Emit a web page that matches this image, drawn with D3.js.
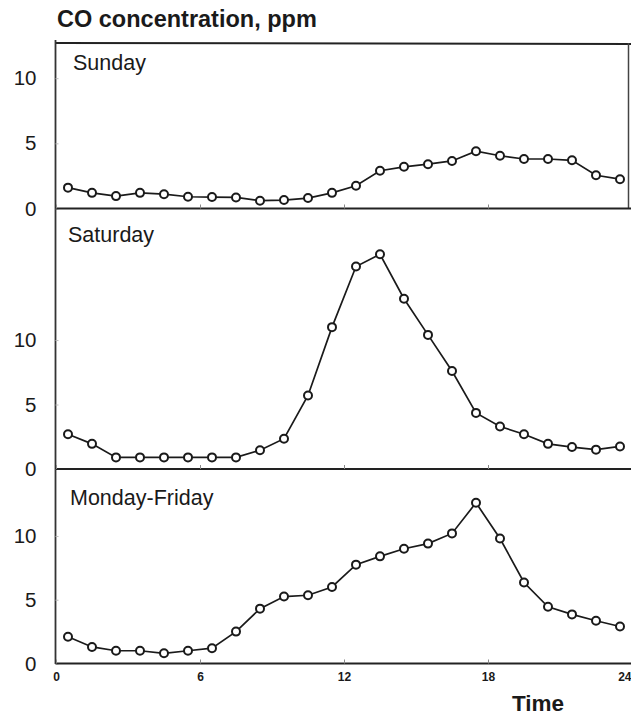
<!DOCTYPE html>
<html>
<head>
<meta charset="utf-8">
<script src="https://cdn.jsdelivr.net/npm/d3@7"></script>
<style>
  html, body { margin: 0; padding: 0; background: #fff; }
  svg { display: block; }
  text { font-family: "Liberation Sans", Arial, Helvetica, sans-serif; fill: #1a1a1a; }
</style>
</head>
<body>
<svg id="chart" width="631" height="718"></svg>
<script>
// ---- data ----
const hours = [0.5, 1.5, 2.5, 3.5, 4.5, 5.5, 6.5, 7.5, 8.5, 9.5, 10.5, 11.5,
               12.5, 13.5, 14.5, 15.5, 16.5, 17.5, 18.5, 19.5, 20.5, 21.5, 22.5, 23.5];
const sunday   = [1.6, 1.2, 0.95, 1.2, 1.1, 0.9, 0.88, 0.85, 0.6, 0.65, 0.8, 1.2,
                  1.75, 2.9, 3.2, 3.4, 3.65, 4.4, 4.05, 3.8, 3.8, 3.7, 2.55, 2.25];
const saturday = [2.7, 1.95, 0.9, 0.9, 0.9, 0.9, 0.9, 0.9, 1.45, 2.35, 5.7, 11.0,
                  15.7, 16.65, 13.2, 10.4, 7.6, 4.35, 3.3, 2.7, 1.95, 1.7, 1.5, 1.75];
const weekday  = [2.1, 1.3, 1.0, 1.0, 0.8, 1.0, 1.2, 2.5, 4.3, 5.25, 5.35, 6.0,
                  7.75, 8.4, 9.0, 9.4, 10.2, 12.6, 9.8, 6.35, 4.45, 3.85, 3.35, 2.9];
const panelNames = ["Sunday", "Saturday", "Monday-Friday"];
const xTicks = [0, 6, 12, 18, 24];
const yTicks = [0, 5, 10];
const titleText = "CO concentration, ppm";
const xTitle = "Time";

// ---- layout ----
const svg = d3.select("#chart");
const left = 55.5, right = 632;
const x = d3.scaleLinear().domain([0, 24]).range([56, 632]);

const panels = [
  { name: panelNames[0], values: sunday,   top: 43,  bottom: 208.5, ymax: 12.7,  labelX: 73, labelY: 70 },
  { name: panelNames[1], values: saturday, top: 208.5, bottom: 469, ymax: 20.2,  labelX: 68, labelY: 242 },
  { name: panelNames[2], values: weekday,  top: 469, bottom: 663.5, ymax: 15.25, labelX: 70, labelY: 505 }
];

// title
svg.append("text")
  .attr("x", 57).attr("y", 27)
  .attr("font-size", 23.5).attr("font-weight", "bold")
  .text(titleText);

// top border of first panel
svg.append("line")
  .attr("x1", left).attr("x2", right).attr("y1", 43).attr("y2", 44)
  .attr("stroke", "#222").attr("stroke-width", 2);
// right border of first panel
svg.append("line")
  .attr("x1", 628.5).attr("x2", 628.5).attr("y1", 43).attr("y2", 208.5)
  .attr("stroke", "#444").attr("stroke-width", 1.5);

// left axis line
svg.append("line")
  .attr("x1", left).attr("x2", left).attr("y1", 40).attr("y2", 664)
  .attr("stroke", "#333").attr("stroke-width", 1.8);

panels.forEach((p, i) => {
  const y = d3.scaleLinear().domain([0, p.ymax]).range([p.bottom, p.top]);
  const g = svg.append("g");

  // y axis
  const ya = g.append("g")
    .attr("transform", `translate(${left},0)`)
    .call(d3.axisLeft(y).tickValues(yTicks).tickSizeInner(-3).tickSizeOuter(0).tickPadding(19));
  ya.select(".domain").remove();
  ya.selectAll(".tick line").attr("stroke", "#bbb").attr("stroke-width", 1);
  ya.selectAll(".tick text")
    .attr("font-family", "Liberation Sans, Arial, sans-serif")
    .attr("font-size", 20.5).attr("fill", "#1a1a1a");

  // bottom line / x axis
  const xa = g.append("g")
    .attr("transform", `translate(0,${p.bottom})`)
    .call(d3.axisBottom(x).tickValues(xTicks).tickSizeInner(-4).tickSizeOuter(0).tickPadding(9));
  xa.select(".domain").attr("stroke", "#222").attr("stroke-width", 2.2)
    .attr("d", `M${left},0H${right}`);
  xa.selectAll(".tick line").attr("stroke", "#888").attr("stroke-width", 1);
  if (i < 2) {
    xa.selectAll(".tick text").remove();
  } else {
    xa.selectAll(".tick text")
      .attr("font-family", "Liberation Sans, Arial, sans-serif")
      .attr("font-weight", "bold").attr("font-size", 12).attr("fill", "#1a1a1a")
      .filter(d => d === 24)
      .attr("text-anchor", "end").attr("dx", -1);
  }

  // panel label
  g.append("text")
    .attr("x", p.labelX).attr("y", p.labelY)
    .attr("font-size", 21.5)
    .text(p.name);

  // series line
  const data = hours.map((h, k) => ({ h, v: p.values[k] }));
  g.append("path")
    .datum(data)
    .attr("fill", "none").attr("stroke", "#1a1a1a").attr("stroke-width", 1.7)
    .attr("d", d3.line().x(d => x(d.h)).y(d => y(d.v)));

  g.selectAll("circle.pt")
    .data(data)
    .enter().append("circle")
    .attr("class", "pt")
    .attr("cx", d => x(d.h)).attr("cy", d => y(d.v))
    .attr("r", 4)
    .attr("fill", "#fff").attr("stroke", "#1a1a1a").attr("stroke-width", 2);
});

// x axis title
svg.append("text")
  .attr("x", 512).attr("y", 711)
  .attr("font-size", 22.5).attr("font-weight", "bold")
  .text(xTitle);
</script>
</body>
</html>
